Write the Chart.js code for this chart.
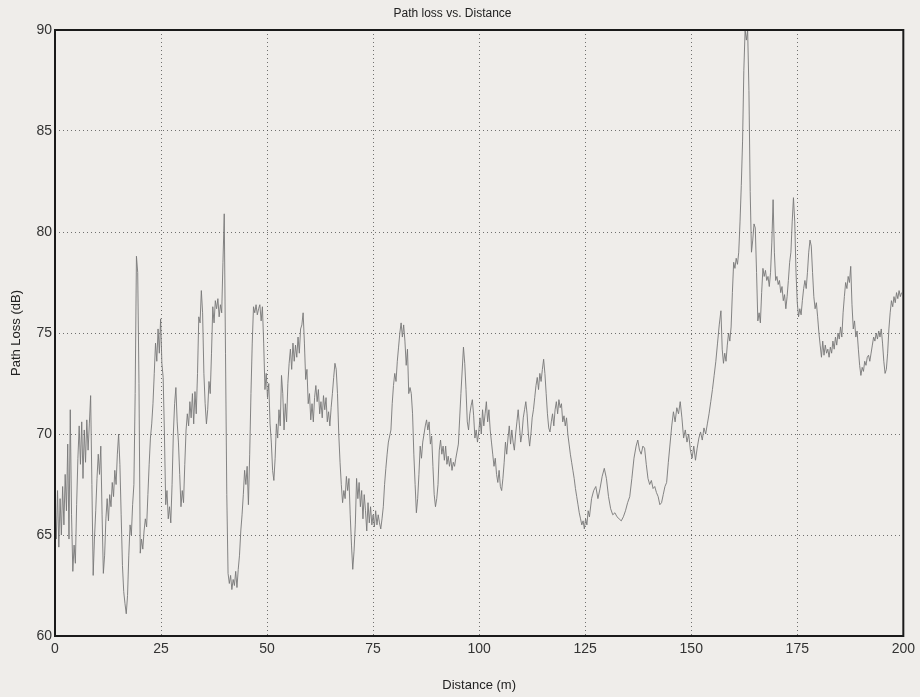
<!DOCTYPE html>
<html>
<head>
<meta charset="utf-8">
<title>Path loss vs. Distance</title>
<script src="https://cdn.jsdelivr.net/npm/chart.js@4.4.1/dist/chart.umd.min.js"></script>
<style>
  body { margin: 0; background: #efedea; }
  #wrap { width: 920px; height: 697px; }
</style>
</head>
<body>
<div id="wrap"><canvas id="lossChart" width="920" height="697"></canvas></div>
<script>
// distance along the route (m)
const distanceM = [
    0.0, 0.3, 0.6, 0.9, 1.2, 1.5, 1.8, 2.1, 2.4, 2.7,
    3.0, 3.3, 3.6, 3.9, 4.2, 4.5, 4.8, 5.1, 5.4, 5.7,
    6.0, 6.3, 6.6, 6.9, 7.2, 7.5, 7.8, 8.1, 8.4, 8.7,
    9.0, 9.3, 9.6, 9.9, 10.2, 10.5, 10.8, 11.1, 11.4, 11.7,
    12.0, 12.3, 12.6, 12.9, 13.2, 13.5, 13.8, 14.1, 14.4, 14.7,
    15.0, 15.3, 15.6, 15.9, 16.2, 16.5, 16.8, 17.1, 17.4, 17.7,
    18.0, 18.3, 18.6, 18.9, 19.2, 19.5, 19.8, 20.1, 20.4, 20.7,
    21.0, 21.3, 21.6, 21.9, 22.2, 22.5, 22.8, 23.1, 23.4, 23.7,
    24.0, 24.3, 24.6, 24.9, 25.2, 25.5, 25.8, 26.1, 26.4, 26.7,
    27.0, 27.3, 27.6, 27.9, 28.2, 28.5, 28.8, 29.1, 29.4, 29.7,
    30.0, 30.3, 30.6, 30.9, 31.2, 31.5, 31.8, 32.1, 32.4, 32.7,
    33.0, 33.3, 33.6, 33.9, 34.2, 34.5, 34.8, 35.1, 35.4, 35.7,
    36.0, 36.3, 36.6, 36.9, 37.2, 37.5, 37.8, 38.1, 38.4, 38.7,
    39.0, 39.3, 39.6, 39.9, 40.2, 40.5, 40.8, 41.1, 41.4, 41.7,
    42.0, 42.3, 42.6, 42.9, 43.2, 43.5, 43.8, 44.1, 44.4, 44.7,
    45.0, 45.3, 45.6, 45.9, 46.2, 46.5, 46.8, 47.1, 47.4, 47.7,
    48.0, 48.3, 48.6, 48.9, 49.2, 49.5, 49.8, 50.1, 50.4, 50.7,
    51.0, 51.3, 51.6, 51.9, 52.2, 52.5, 52.8, 53.1, 53.4, 53.7,
    54.0, 54.3, 54.6, 54.9, 55.2, 55.5, 55.8, 56.1, 56.4, 56.7,
    57.0, 57.3, 57.6, 57.9, 58.2, 58.5, 58.8, 59.1, 59.4, 59.7,
    60.0, 60.3, 60.6, 60.9, 61.2, 61.5, 61.8, 62.1, 62.4, 62.7,
    63.0, 63.3, 63.6, 63.9, 64.2, 64.5, 64.8, 65.1, 65.4, 65.7,
    66.0, 66.3, 66.6, 66.9, 67.2, 67.5, 67.8, 68.1, 68.4, 68.7,
    69.0, 69.3, 69.6, 69.9, 70.2, 70.5, 70.8, 71.1, 71.4, 71.7,
    72.0, 72.3, 72.6, 72.9, 73.2, 73.5, 73.8, 74.1, 74.4, 74.7,
    75.0, 75.3, 75.6, 75.9, 76.2, 76.5, 76.8, 77.1, 77.4, 77.7,
    78.0, 78.3, 78.6, 78.9, 79.2, 79.5, 79.8, 80.1, 80.4, 80.7,
    81.0, 81.3, 81.6, 81.9, 82.2, 82.5, 82.8, 83.1, 83.4, 83.7,
    84.0, 84.3, 84.6, 84.9, 85.2, 85.5, 85.8, 86.1, 86.4, 86.7,
    87.0, 87.3, 87.6, 87.9, 88.2, 88.5, 88.8, 89.1, 89.4, 89.7,
    90.0, 90.3, 90.6, 90.9, 91.2, 91.5, 91.8, 92.1, 92.4, 92.7,
    93.0, 93.3, 93.6, 93.9, 94.2, 94.5, 95.1, 95.7, 96.3, 96.6,
    96.9, 97.2, 97.5, 97.8, 98.1, 98.4, 98.7, 99.0, 99.3, 99.6,
    99.9, 100.2, 100.5, 100.8, 101.1, 101.4, 101.7, 102.0, 102.3, 102.6,
    102.9, 103.2, 103.5, 103.8, 104.1, 104.4, 104.7, 105.0, 105.3, 105.6,
    105.9, 106.2, 106.5, 106.8, 107.1, 107.4, 107.7, 108.0, 108.3, 108.6,
    108.9, 109.2, 109.5, 109.8, 110.1, 110.4, 110.7, 111.0, 111.3, 111.6,
    111.9, 112.2, 112.5, 112.8, 113.1, 113.4, 113.7, 114.0, 114.3, 114.6,
    114.9, 115.2, 115.5, 115.8, 116.1, 116.4, 116.7, 117.0, 117.3, 117.6,
    117.9, 118.2, 118.5, 118.8, 119.1, 119.4, 119.7, 120.0, 120.3, 120.6,
    120.9, 121.2, 121.5, 121.8, 122.1, 122.4, 122.7, 123.0, 123.3, 123.6,
    123.9, 124.2, 124.5, 124.8, 125.1, 125.4, 125.7, 126.0, 126.5, 127.0,
    127.5, 128.0, 128.5, 129.0, 129.5, 130.0, 130.5, 131.0, 131.5, 132.0,
    132.5, 133.0, 133.5, 134.0, 134.5, 135.0, 135.5, 136.0, 136.5, 137.0,
    137.4, 137.8, 138.2, 138.6, 139.0, 139.4, 139.8, 140.2, 140.6, 141.0,
    141.4, 141.8, 142.2, 142.6, 143.0, 143.4, 143.8, 144.2, 144.6, 145.0,
    145.4, 145.8, 146.2, 146.6, 147.0, 147.4, 147.8, 148.2, 148.6, 149.0,
    149.4, 149.8, 150.2, 150.6, 151.0, 151.4, 151.8, 152.2, 152.6, 153.0,
    153.4, 153.8, 154.2, 154.6, 155.0, 155.4, 155.8, 156.2, 156.6, 157.0,
    157.3, 157.6, 157.9, 158.2, 158.5, 158.8, 159.1, 159.4, 159.7, 160.0,
    160.3, 160.6, 160.9, 161.2, 161.5, 161.8, 162.1, 162.4, 162.7, 163.0,
    163.3, 163.6, 163.9, 164.2, 164.5, 164.8, 165.1, 165.4, 165.7, 166.0,
    166.3, 166.6, 166.9, 167.2, 167.5, 167.8, 168.1, 168.4, 168.7, 169.0,
    169.3, 169.6, 169.9, 170.2, 170.5, 170.8, 171.1, 171.4, 171.7, 172.0,
    172.3, 172.6, 172.9, 173.2, 173.5, 173.8, 174.1, 174.4, 174.7, 175.0,
    175.3, 175.6, 175.9, 176.2, 176.5, 176.8, 177.1, 177.4, 177.7, 178.0,
    178.3, 178.6, 178.9, 179.2, 179.5, 179.8, 180.1, 180.4, 180.7, 181.0,
    181.3, 181.6, 181.9, 182.2, 182.5, 182.8, 183.1, 183.4, 183.7, 184.0,
    184.3, 184.6, 184.9, 185.2, 185.5, 185.8, 186.1, 186.4, 186.7, 187.0,
    187.3, 187.6, 187.9, 188.2, 188.5, 188.8, 189.1, 189.4, 189.7, 190.0,
    190.3, 190.6, 190.9, 191.2, 191.5, 191.8, 192.1, 192.4, 192.7, 193.0,
    193.3, 193.6, 193.9, 194.2, 194.5, 194.8, 195.1, 195.4, 195.7, 196.0,
    196.3, 196.6, 196.9, 197.2, 197.5, 197.8, 198.1, 198.4, 198.7, 199.0,
    199.3, 199.6
];

// measured path loss (dB), one value per distance above
const pathLossDb = [
    66.5, 64.8, 67.2, 64.4, 66.8, 65.0, 67.4, 65.5, 68.0, 66.2,
    69.5, 64.8, 71.2, 66.0, 63.2, 64.5, 63.6, 66.5, 68.8, 70.4,
    68.5, 70.6, 67.8, 70.2, 68.6, 70.7, 69.2, 70.5, 71.9, 67.5,
    63.0, 64.8, 66.2, 67.8, 69.0, 68.0, 69.4, 66.0, 63.1, 64.0,
    65.8, 66.8, 65.7, 67.0, 66.4, 67.6, 66.9, 68.2, 67.5, 69.0,
    70.0, 68.5, 66.0, 63.5, 62.2, 61.6, 61.1, 62.0, 64.0, 65.5,
    65.0, 66.5, 67.5, 72.0, 78.8, 78.0, 72.5, 64.1, 64.8, 64.3,
    65.2, 65.8, 65.4, 67.0, 68.5, 69.8, 70.5, 71.5, 73.0, 74.5,
    73.6, 75.2, 74.0, 75.7, 73.5, 72.8, 70.0, 66.5, 67.2, 65.8,
    66.4, 65.6, 67.5, 70.0, 71.5, 72.3, 70.6, 69.6, 68.0, 66.4,
    67.2, 66.6, 68.5, 70.2, 71.0, 70.4, 71.6, 70.8, 72.0, 70.5,
    72.1, 71.0, 73.0, 75.8, 75.5, 77.1, 76.0, 73.0, 71.5, 70.5,
    71.2, 72.6, 72.0, 74.0, 76.3, 75.5, 76.6, 76.2, 76.7, 75.8,
    76.4, 76.0, 78.5, 80.9, 74.0, 67.0, 63.1, 62.6, 63.0, 62.3,
    62.8, 62.5, 63.2, 62.4, 63.3, 64.0, 65.2, 66.0, 67.0, 68.2,
    67.5, 68.4, 66.5, 69.0, 72.0, 74.5, 76.3, 76.0, 76.4, 75.9,
    76.2, 76.4, 75.6, 76.3, 74.5, 72.2, 73.0, 71.8, 72.5, 70.5,
    69.6, 68.2, 67.7, 68.8, 70.5, 69.8, 71.2, 70.4, 72.9, 72.0,
    70.2, 71.5, 70.6, 72.5, 73.5, 74.2, 73.2, 74.5, 73.6, 74.4,
    73.8, 74.8, 74.0, 75.2, 75.4, 76.0, 74.5, 72.7, 73.2, 71.5,
    72.0, 70.7, 71.5, 70.6, 71.8, 72.4, 71.6, 72.2, 71.0, 71.6,
    70.8, 71.9, 71.2, 71.8, 70.6, 71.1, 70.4, 71.3, 72.0, 72.8,
    73.5, 73.2, 72.0, 70.0, 68.6, 67.5, 66.6, 67.2, 66.8, 67.9,
    67.2, 67.8, 66.0, 64.5, 63.3, 64.2, 65.5, 67.8, 66.8, 67.6,
    66.4, 67.2, 65.8, 67.0, 66.2, 65.2, 66.6, 65.6, 66.4, 65.5,
    66.0, 65.4, 66.2, 65.5, 66.0, 65.6, 65.3, 65.8, 66.4, 67.5,
    68.3, 69.0, 69.6, 69.9, 70.2, 71.5, 72.4, 73.0, 72.6, 73.6,
    74.3, 75.0, 75.5, 74.8, 75.4, 74.6, 73.4, 74.2, 72.0, 72.3,
    72.0, 71.0, 69.0, 67.5, 66.1, 66.8, 68.0, 69.4, 68.8, 69.6,
    70.0, 70.4, 70.7, 70.2, 70.6, 69.5, 69.9, 68.4, 67.0, 66.4,
    66.8, 67.5, 69.2, 69.7, 69.0, 69.4, 68.7, 69.4, 68.5, 68.9,
    68.4, 68.8, 68.2, 68.6, 68.4, 68.8, 69.5, 72.0, 74.3, 73.5,
    72.2, 70.6, 70.2, 71.0, 71.4, 71.7, 70.9, 69.8, 70.2, 69.6,
    70.1, 70.8, 70.0, 71.2, 70.4, 71.0, 71.6, 70.6, 71.2, 70.2,
    69.6, 69.0, 68.4, 68.8, 68.0, 67.6, 68.2, 67.4, 67.2, 67.8,
    68.6, 69.6, 69.0, 69.8, 70.4, 69.5, 70.2, 69.6, 69.2, 70.0,
    70.6, 71.2, 70.4, 69.6, 70.0, 70.8, 71.2, 71.6, 71.0, 70.0,
    69.4, 70.0, 70.8, 71.2, 71.8, 72.4, 72.8, 72.2, 73.0, 72.6,
    73.2, 73.7, 73.0, 72.0, 71.0, 70.3, 70.1, 70.6, 71.0, 70.4,
    71.2, 71.6, 71.0, 71.7, 71.3, 71.5, 70.6, 70.9, 70.4, 70.8,
    70.0, 69.5, 69.0, 68.6, 68.2, 67.8, 67.3, 66.9, 66.5, 66.1,
    65.8, 65.5, 65.7, 65.3, 65.8, 65.5, 66.2, 65.9, 66.8, 67.2,
    67.4, 66.8, 67.3, 67.9, 68.3, 67.8, 66.9, 66.3, 66.0, 66.1,
    65.9, 65.8, 65.7, 65.9, 66.2, 66.6, 66.9, 67.8, 68.8, 69.4,
    69.7, 69.2, 69.0, 69.4, 69.3, 68.5, 67.8, 67.5, 67.7, 67.3,
    67.4, 67.1, 66.9, 66.5, 66.6, 67.0, 67.4, 67.6, 68.6, 69.5,
    70.4, 71.1, 70.6, 71.3, 71.0, 71.6, 70.8, 69.8, 70.2, 69.6,
    70.0, 69.2, 68.8, 69.4, 68.7, 69.3, 69.8, 70.1, 69.7, 70.3,
    70.0, 70.5, 71.0, 71.6, 72.2, 72.9, 73.6, 74.5, 75.4, 76.1,
    74.2, 73.5, 74.0, 73.6, 74.4, 75.0, 74.6, 75.3, 77.0, 78.5,
    78.2, 78.7, 78.4, 79.0, 80.5, 82.3, 84.5, 88.0, 90.0, 89.5,
    90.0, 87.0, 82.0, 79.0, 79.6, 80.4, 80.2, 78.0, 75.6, 76.0,
    75.5, 77.0, 78.2, 77.8, 78.1, 77.6, 77.8, 77.3, 78.0, 79.5,
    81.6, 79.0, 77.6, 77.8, 77.4, 77.6, 77.0, 77.3, 76.6, 76.9,
    76.2, 76.8, 77.6, 78.5, 79.0, 80.5, 81.7, 80.5, 78.0, 76.5,
    75.8, 76.2, 75.9, 76.6, 77.2, 77.6, 77.2, 78.0, 79.0, 79.6,
    79.3, 78.0, 76.8, 76.2, 76.5, 75.8, 75.0, 74.4, 73.8, 74.6,
    73.9, 74.4, 74.0, 74.2, 73.8, 74.3, 74.0, 74.6, 74.2, 74.8,
    74.4, 75.0, 74.7, 75.3, 74.8, 76.0, 76.8, 77.5, 77.2, 77.8,
    77.5, 78.3, 76.4, 75.2, 75.6, 74.8, 75.1, 74.2, 73.4, 72.9,
    73.3, 73.1, 73.6, 73.4, 73.8, 73.9, 73.6, 74.0, 74.4, 74.8,
    74.6, 75.0, 74.7, 75.1, 74.8, 75.2, 74.5, 73.6, 73.0, 73.2,
    74.0, 75.2, 76.0, 76.6, 76.3, 76.8, 76.5, 77.0, 76.7, 77.1,
    76.8, 77.0
];

// axis ticks
const distanceTicks = [0, 25, 50, 75, 100, 125, 150, 175, 200];
const lossTicks = [60, 65, 70, 75, 80, 85, 90];

const points = distanceM.map((d, i) => ({ x: d, y: pathLossDb[i] }));

// paper background + black frame round the plot area
const framePlugin = {
    id: 'frame',
    beforeDraw(chart) {
        const ctx = chart.ctx;
        ctx.save();
        ctx.fillStyle = '#efedea';
        ctx.fillRect(0, 0, chart.width, chart.height);
        ctx.restore();
    },
    afterDraw(chart) {
        const a = chart.chartArea;
        const ctx = chart.ctx;
        ctx.save();
        ctx.strokeStyle = '#1a1a1a';
        ctx.lineWidth = 2;
        ctx.strokeRect(a.left, a.top, a.right - a.left, a.bottom - a.top);
        ctx.restore();
    }
};

const gridStyle = {
    color: 'rgba(70,70,70,0.75)',
    lineWidth: 1,
    drawTicks: false
};

const canvas = document.getElementById('lossChart');
new Chart(canvas.getContext('2d'), {
    type: 'line',
    data: {
        datasets: [{
            label: 'Path loss',
            data: points,
            borderColor: 'rgba(120,120,120,0.9)',
            borderWidth: 1,
            pointRadius: 0,
            tension: 0,
            fill: false
        }]
    },
    options: {
        responsive: false,
        animation: false,
        layout: { padding: { left: 0, right: 15, top: 0, bottom: 0 } },
        plugins: {
            legend: { display: false },
            tooltip: { enabled: false },
            title: {
                display: true,
                text: 'Path loss vs. Distance',
                color: '#222',
                font: { family: 'Liberation Sans, Arial, sans-serif', size: 12, weight: 'normal' },
                padding: { top: 6, bottom: 9.6 }
            }
        },
        scales: {
            x: {
                type: 'linear',
                min: 0,
                max: 200,
                afterBuildTicks: scale => { scale.ticks = distanceTicks.map(v => ({ value: v })); },
                afterFit: scale => { scale.height = 61; },
                grid: Object.assign({}, gridStyle),
                border: { display: false, dash: [1, 3] },
                ticks: {
                    color: '#333',
                    padding: 5,
                    maxRotation: 0,
                    font: { family: 'Liberation Sans, Arial, sans-serif', size: 14 }
                },
                title: {
                    display: true,
                    text: 'Distance (m)',
                    color: '#222',
                    font: { family: 'Liberation Sans, Arial, sans-serif', size: 13 },
                    padding: { top: 0, bottom: 4 }
                }
            },
            y: {
                min: 60,
                max: 90,
                afterBuildTicks: scale => { scale.ticks = lossTicks.map(v => ({ value: v })); },
                afterFit: scale => { scale.width = 55; },
                grid: Object.assign({}, gridStyle),
                border: { display: false, dash: [1, 3] },
                ticks: {
                    color: '#333',
                    padding: 3,
                    font: { family: 'Liberation Sans, Arial, sans-serif', size: 14 }
                },
                title: {
                    display: true,
                    text: 'Path Loss (dB)',
                    color: '#222',
                    font: { family: 'Liberation Sans, Arial, sans-serif', size: 13 },
                    padding: { top: 9, bottom: 0 }
                }
            }
        }
    },
    plugins: [framePlugin]
});
</script>
</body>
</html>
